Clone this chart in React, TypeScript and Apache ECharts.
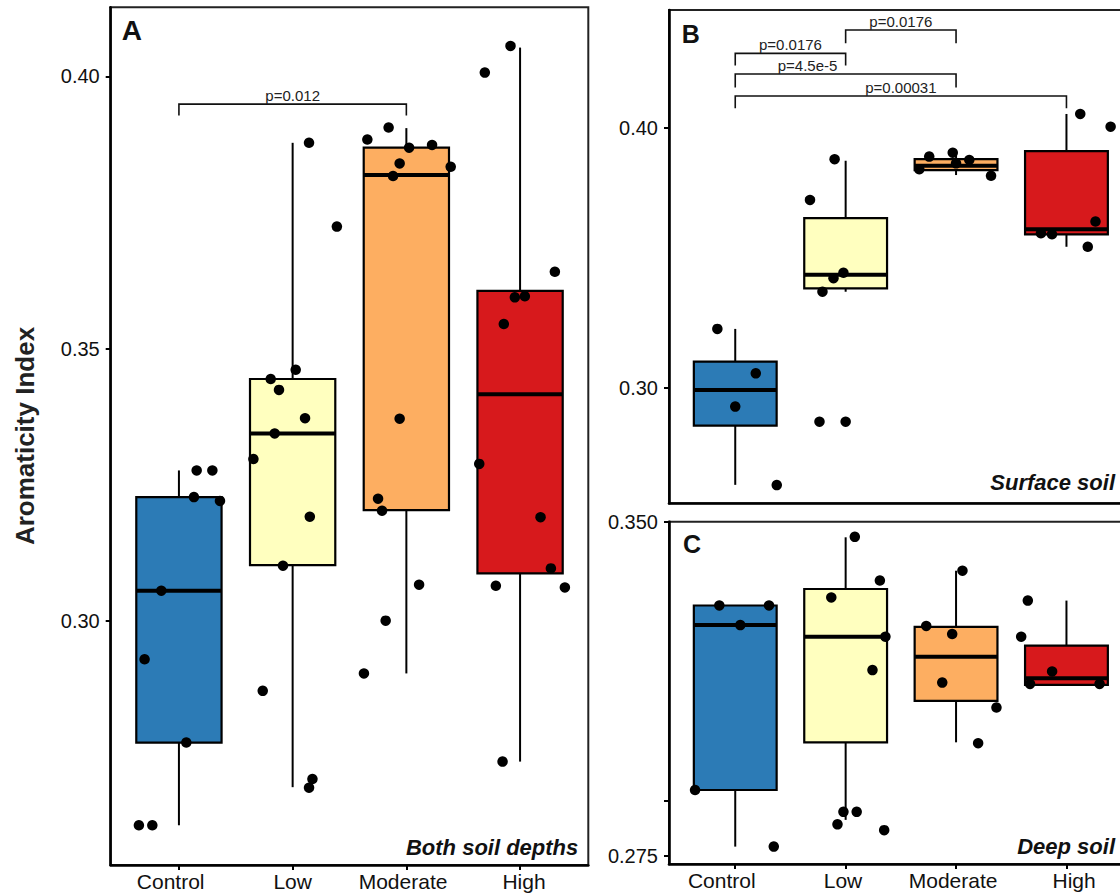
import React, { useEffect, useRef } from "react";
import * as echarts from "echarts";

const categories = ["Control", "Low", "Moderate", "High"];
const boxColors = ["#2C7BB6", "#FFFFBF", "#FDAE61", "#D7191C"];

// box stats per category: [lowerWhisker, q1, median, q3, upperWhisker]
const boxA = [
  [0.2624, 0.2776, 0.3055, 0.3227, 0.3276],
  [0.2694, 0.3102, 0.3344, 0.3444, 0.3878],
  [0.2903, 0.3203, 0.3819, 0.3869, 0.3905],
  [0.2741, 0.3087, 0.3416, 0.3606, 0.4053],
];
const boxB = [
  [0.2626, 0.2854, 0.2991, 0.31, 0.3226],
  [0.3369, 0.3382, 0.3434, 0.3652, 0.3873],
  [0.3818, 0.3837, 0.3854, 0.3879, 0.3908],
  [0.3542, 0.359, 0.3609, 0.391, 0.4053],
];
const boxC = [
  [0.2771, 0.2898, 0.3268, 0.3312, 0.3312],
  [0.2831, 0.3005, 0.3242, 0.3349, 0.3465],
  [0.3005, 0.3098, 0.3197, 0.3264, 0.339],
  [0.3134, 0.3134, 0.3149, 0.3222, 0.3323],
];

// observations (values) and horizontal jitter (category units)
const ptsA = [
  [0.3276, 0.3276, 0.3227, 0.322, 0.3055, 0.2929, 0.2776, 0.2624, 0.2624],
  [0.3878, 0.3724, 0.3461, 0.3444, 0.3424, 0.3372, 0.3344, 0.3297, 0.3191, 0.3101, 0.2871, 0.2709, 0.2693],
  [0.3884, 0.3906, 0.3869, 0.3874, 0.384, 0.3834, 0.3817, 0.3371, 0.3224, 0.3202, 0.3066, 0.3, 0.2903],
  [0.4056, 0.4007, 0.3641, 0.3594, 0.3596, 0.3545, 0.3288, 0.319, 0.3096, 0.3064, 0.3061, 0.2741],
];
const jitA = [
  [0.156, 0.294, 0.132, 0.361, -0.155, -0.302, 0.065, -0.352, -0.234],
  [0.144, 0.389, 0.027, -0.193, -0.12, 0.109, -0.158, -0.345, 0.151, -0.085, -0.263, 0.174, 0.144],
  [-0.343, -0.156, 0.024, 0.226, -0.059, 0.39, -0.117, -0.059, -0.249, -0.214, 0.112, -0.182, -0.373],
  [-0.084, -0.31, 0.306, -0.046, 0.042, -0.143, -0.359, 0.18, 0.271, -0.213, 0.394, -0.154],
];
const ptsB = [
  [0.3226, 0.3055, 0.2927, 0.2625],
  [0.3879, 0.3722, 0.3442, 0.3421, 0.3369, 0.2869, 0.2869],
  [0.3889, 0.3904, 0.3876, 0.384, 0.3815, 0.3863],
  [0.4053, 0.4004, 0.3639, 0.3594, 0.359, 0.3542],
];
const jitB = [
  [-0.162, 0.186, 0.0, 0.376],
  [-0.1, -0.323, -0.02, -0.11, -0.21, -0.237, 0.0],
  [-0.243, -0.03, 0.12, -0.333, 0.317, 0.0],
  [0.125, 0.4, 0.263, -0.231, -0.131, 0.193],
];
const ptsC = [
  [0.3312, 0.3312, 0.3268, 0.2898, 0.2771],
  [0.3466, 0.3368, 0.333, 0.3242, 0.3167, 0.2849, 0.2849, 0.2821, 0.2808],
  [0.339, 0.3266, 0.3248, 0.3139, 0.3083, 0.3003],
  [0.3323, 0.3242, 0.3164, 0.3136, 0.3136],
];
const jitC = [
  [-0.144, 0.306, 0.046, -0.364, 0.349],
  [0.083, 0.31, -0.13, 0.36, 0.243, -0.02, 0.1, -0.074, 0.349],
  [0.058, -0.27, -0.035, -0.125, 0.366, 0.2],
  [-0.35, -0.41, -0.13, -0.33, 0.3],
];

// significance brackets: [fromCat, toCat, barValue, legEndValue, labelX]
const sigA = [[1, 3, 0.3949, 0.3928, 2]];
const sigALabels = ["p=0.012"];
const sigB = [
  [2, 3, 0.4376, 0.4325, 2.5],
  [1, 2, 0.4286, 0.4239, 1.5],
  [1, 3, 0.4207, 0.4155, 1.655],
  [1, 4, 0.4122, 0.4075, 2.5],
];
const sigBLabels = ["p=0.0176", "p=0.0176", "p=4.5e-5", "p=0.00031"];

// axis ranges and ticks
const yRangeA = [0.2551, 0.4127];
const yRangeB = [0.2555, 0.4453];
const yRangeC = [0.2732, 0.35];
const yTicksA = [0.3, 0.35, 0.4];
const yTicksB = [0.3, 0.4];
const yTicksC = [0.275, 0.2875, 0.35];
const yLabelsC = [0.275, 0.35];
const xTicks = [1, 2, 3, 4];
// category label anchors as placed in the source figure
const xLabelPosA = [0.927, 2.0, 2.971, 4.035];
const xLabelPosC = [0.878, 1.976, 2.973, 4.069];

const FONT = "Liberation Sans, Arial, Helvetica, sans-serif";

function boxRender(params: any, api: any) {
  const x = api.value(0);
  const lo = api.coord([x, api.value(1)]);
  const q1 = api.coord([x, api.value(2)]);
  const med = api.coord([x, api.value(3)]);
  const q3 = api.coord([x, api.value(4)]);
  const hi = api.coord([x, api.value(5)]);
  const w = api.size([0.75, 0])[0];
  const color = boxColors[params.dataIndex];
  const line = { stroke: "#000", lineWidth: 2 };
  return {
    type: "group",
    children: [
      { type: "line", shape: { x1: lo[0], y1: lo[1], x2: q1[0], y2: q1[1] }, style: line },
      { type: "line", shape: { x1: q3[0], y1: q3[1], x2: hi[0], y2: hi[1] }, style: line },
      {
        type: "rect",
        shape: { x: q3[0] - w / 2, y: q3[1], width: w, height: q1[1] - q3[1] },
        style: { fill: color, stroke: "#000", lineWidth: 2.2 },
      },
      {
        type: "line",
        shape: { x1: med[0] - w / 2, y1: med[1], x2: med[0] + w / 2, y2: med[1] },
        style: { stroke: "#000", lineWidth: 4 },
      },
    ],
  };
}

function makeSigRender(labels: string[]) {
  return (params: any, api: any) => {
    const x1 = api.value(0);
    const x2 = api.value(1);
    const top = api.value(2);
    const leg = api.value(3);
    const tx = api.value(4);
    const a = api.coord([x1, leg]);
    const b = api.coord([x1, top]);
    const c = api.coord([x2, top]);
    const d = api.coord([x2, leg]);
    const t = api.coord([tx, top]);
    return {
      type: "group",
      children: [
        {
          type: "polyline",
          shape: { points: [a, b, c, d] },
          style: { stroke: "#111", lineWidth: 1.6, fill: null },
        },
        {
          type: "text",
          x: t[0],
          y: t[1] - 1,
          style: {
            text: labels[params.dataIndex],
            textAlign: "center",
            textVerticalAlign: "bottom",
            fontSize: 15,
            fontFamily: FONT,
            fill: "#222",
          },
        },
      ],
    };
  };
}

function pointsData(vals: number[][], jit: number[][]) {
  const out: number[][] = [];
  vals.forEach((g, gi) => g.forEach((v, i) => out.push([gi + 1 + jit[gi][i], v])));
  return out;
}

function xAxis(gi: number, labelPos: number[] | null) {
  const show = !!labelPos;
  return {
    gridIndex: gi,
    type: "value",
    min: 0.4,
    max: 4.6,
    splitLine: { show: false },
    axisLine: { show: true, onZero: false, lineStyle: { color: "#000", width: 2.6 } },
    axisTick: {
      show,
      customValues: xTicks,
      length: 5,
      lineStyle: { color: "#000", width: 2 },
    },
    axisLabel: {
      show,
      customValues: labelPos || xTicks,
      formatter: (v: number) => categories[Math.round(v) - 1] || "",
      fontSize: 21,
      color: "#111",
      fontFamily: FONT,
      margin: 6,
    },
  };
}

function yAxis(gi: number, range: number[], ticks: number[], labels: number[], digits: number) {
  return {
    gridIndex: gi,
    type: "value",
    min: range[0],
    max: range[1],
    splitLine: { show: false },
    axisLine: { show: true, onZero: false, lineStyle: { color: "#000", width: 2.6 } },
    axisTick: { show: true, customValues: ticks, length: 5, lineStyle: { color: "#000", width: 2 } },
    axisLabel: {
      customValues: labels,
      formatter: (v: number) => v.toFixed(digits),
      fontSize: 20,
      color: "#111",
      fontFamily: FONT,
      margin: 11,
    },
  };
}

function panelSeries(gi: number, box: number[][], pts: number[][], jit: number[][]) {
  return [
    {
      type: "custom",
      xAxisIndex: gi,
      yAxisIndex: gi,
      renderItem: boxRender,
      encode: { x: 0, y: [1, 2, 3, 4, 5] },
      data: box.map((b, i) => [i + 1, ...b]),
      z: 2,
      silent: true,
    },
    {
      type: "scatter",
      xAxisIndex: gi,
      yAxisIndex: gi,
      symbol: "circle",
      symbolSize: 10.5,
      itemStyle: { color: "#000", opacity: 1 },
      data: pointsData(pts, jit),
      z: 5,
      silent: true,
    },
  ];
}

function sigSeries(gi: number, rows: number[][], labels: string[]) {
  return {
    type: "custom",
    xAxisIndex: gi,
    yAxisIndex: gi,
    renderItem: makeSigRender(labels),
    encode: { x: [0, 1], y: [2, 3] },
    data: rows,
    z: 6,
    silent: true,
    clip: false,
  };
}

function cornerText(text: string, x: number, y: number, size: number, align: string, italic: boolean) {
  return {
    type: "text",
    x,
    y,
    z: 20,
    style: {
      text,
      textAlign: align,
      textVerticalAlign: "middle",
      fontSize: size,
      fontWeight: "bold",
      fontStyle: italic ? "italic" : "normal",
      fontFamily: FONT,
      fill: "#111",
    },
  };
}

export default function App() {
  const ref = useRef<HTMLDivElement>(null);
  useEffect(() => {
    if (!ref.current) return;
    const chart = echarts.init(ref.current, null, { renderer: "svg" });
    const gridBase = {
      show: true,
      borderColor: "#222",
      borderWidth: 2,
      backgroundColor: "#fff",
      containLabel: false,
      outerBoundsMode: "none",
    };
    const option: any = {
      animation: false,
      backgroundColor: "#fff",
      grid: [
        { ...gridBase, left: 110.7, top: 7.3, width: 477.6, height: 857.7 },
        { ...gridBase, left: 669, top: 10, width: 463.7, height: 493.3 },
        { ...gridBase, left: 669, top: 521.7, width: 463.7, height: 342.3 },
      ],
      xAxis: [xAxis(0, xLabelPosA), xAxis(1, null), xAxis(2, xLabelPosC)],
      yAxis: [
        yAxis(0, yRangeA, yTicksA, yTicksA, 2),
        yAxis(1, yRangeB, yTicksB, yTicksB, 2),
        yAxis(2, yRangeC, yTicksC, yLabelsC, 3),
      ],
      series: [
        ...panelSeries(0, boxA, ptsA, jitA),
        ...panelSeries(1, boxB, ptsB, jitB),
        ...panelSeries(2, boxC, ptsC, jitC),
        sigSeries(0, sigA, sigALabels),
        sigSeries(1, sigB, sigBLabels),
      ],
      graphic: [
        cornerText("A", 121.7, 30.3, 28, "left", false),
        cornerText("B", 681.7, 33.8, 25, "left", false),
        cornerText("C", 683, 543.8, 25, "left", false),
        cornerText("Both soil depths", 578.3, 847.5, 22, "right", true),
        cornerText("Surface soil", 1115, 482.5, 22, "right", true),
        cornerText("Deep soil", 1115, 846.7, 22, "right", true),
        {
          type: "text",
          x: 25,
          y: 436,
          rotation: Math.PI / 2,
          z: 20,
          style: {
            text: "Aromaticity Index",
            textAlign: "center",
            textVerticalAlign: "middle",
            fontSize: 26,
            fontWeight: "bold",
            fontFamily: FONT,
            fill: "#222",
          },
        },
      ],
    };
    chart.setOption(option);
    return () => chart.dispose();
  }, []);
  return (
    <div
      ref={ref}
      style={{ position: "absolute", left: 0, top: 0, width: 1120, height: 896, background: "#fff" }}
    />
  );
}
